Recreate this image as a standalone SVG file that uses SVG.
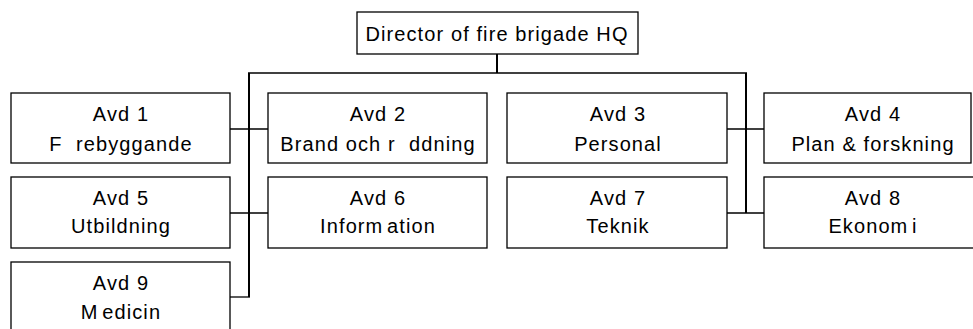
<svg xmlns="http://www.w3.org/2000/svg" width="973" height="329" viewBox="0 0 973 329">
<style>
.box{fill:#fff;stroke:#000;stroke-width:1.3}
.t{font-family:"Liberation Sans",Arial,sans-serif;font-size:20px;letter-spacing:1.1px;fill:#000;text-anchor:middle;white-space:pre}
.g{word-spacing:-3px}
.trunk{stroke:#000;stroke-width:2;fill:none}
.br{stroke:#000;stroke-width:1.3;fill:none}
</style>
<rect width="973" height="329" fill="#fff"/>
<g id="connectors">
<line class="trunk" x1="497" y1="54" x2="497" y2="73"/>
<line class="br" x1="248" y1="73" x2="747" y2="73"/>
<line class="trunk" x1="249" y1="73" x2="249" y2="297"/>
<line class="trunk" x1="746" y1="73" x2="746" y2="213"/>
<line class="br" x1="230" y1="129" x2="268" y2="129"/>
<line class="br" x1="230" y1="213" x2="268" y2="213"/>
<line class="br" x1="230" y1="297" x2="250" y2="297"/>
<line class="br" x1="727" y1="129" x2="764" y2="129"/>
<line class="br" x1="727" y1="213" x2="764" y2="213"/>
</g>
<g id="hq">
<rect class="box" x="357" y="12" width="281" height="42"/>
<text class="t" x="497" y="41">Director of fire brigade HQ</text>
</g>
<g id="avd1">
<rect class="box" x="11" y="93" width="219" height="70"/>
<text class="t" x="121" y="121">Avd 1</text>
<text class="t" x="121" y="151">F  rebyggande</text>
</g>
<g id="avd2">
<rect class="box" x="268" y="93" width="219" height="70"/>
<text class="t" x="378" y="121">Avd 2</text>
<text class="t" x="378" y="151">Brand och r  ddning</text>
</g>
<g id="avd3">
<rect class="box" x="507" y="93" width="220" height="70"/>
<text class="t" x="618" y="121">Avd 3</text>
<text class="t" x="618" y="151">Personal</text>
</g>
<g id="avd4">
<rect class="box" x="764" y="93" width="207" height="70"/>
<text class="t" x="873" y="121">Avd 4</text>
<text class="t" x="873" y="151">Plan &amp; forskning</text>
</g>
<g id="avd5">
<rect class="box" x="11" y="177" width="219" height="71"/>
<text class="t" x="121" y="205">Avd 5</text>
<text class="t" x="121" y="233">Utbildning</text>
</g>
<g id="avd6">
<rect class="box" x="268" y="177" width="219" height="71"/>
<text class="t" x="378" y="205">Avd 6</text>
<text class="t g" x="378" y="233">Inform ation</text>
</g>
<g id="avd7">
<rect class="box" x="507" y="177" width="220" height="71"/>
<text class="t" x="618" y="205">Avd 7</text>
<text class="t" x="618" y="233">Teknik</text>
</g>
<g id="avd8">
<rect class="box" x="764" y="177" width="220" height="71"/>
<text class="t" x="873" y="205">Avd 8</text>
<text class="t g" x="873" y="233">Ekonom i</text>
</g>
<g id="avd9">
<rect class="box" x="11" y="262" width="219" height="80"/>
<text class="t" x="121" y="290">Avd 9</text>
<text class="t g" x="121" y="319">M edicin</text>
</g>
</svg>
